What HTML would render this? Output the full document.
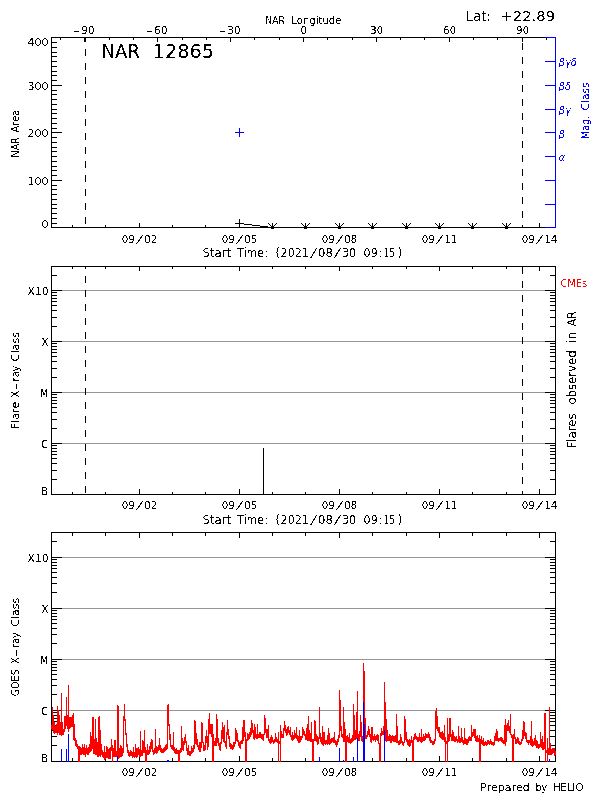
<!DOCTYPE html>
<html><head><meta charset="utf-8"><title>NAR 12865</title>
<style>
html,body{margin:0;padding:0;background:#fff}
svg{display:block}
svg text{font-family:"DejaVu Sans", "Liberation Sans", sans-serif;filter:url(#crisp)}
svg text[fill="#f00"]{filter:url(#crispR)}
svg text[fill="#00f"]{filter:url(#crispB)}
svg path{shape-rendering:crispEdges;fill:none;stroke-width:1}
</style></head><body>
<svg width="600" height="800" viewBox="0 0 600 800">
<defs>
<filter id="crisp" x="-5%" y="-5%" width="110%" height="110%" color-interpolation-filters="sRGB"><feComponentTransfer in="SourceAlpha" result="a"><feFuncA type="discrete" tableValues="0 1"/></feComponentTransfer><feFlood flood-color="#000"/><feComposite operator="in" in2="a"/></filter>
<filter id="crispR" x="-5%" y="-5%" width="110%" height="110%" color-interpolation-filters="sRGB"><feComponentTransfer in="SourceAlpha" result="a"><feFuncA type="discrete" tableValues="0 1"/></feComponentTransfer><feFlood flood-color="#f00"/><feComposite operator="in" in2="a"/></filter>
<filter id="crispB" x="-5%" y="-5%" width="110%" height="110%" color-interpolation-filters="sRGB"><feComponentTransfer in="SourceAlpha" result="a"><feFuncA type="discrete" tableValues="0 1"/></feComponentTransfer><feFlood flood-color="#00f"/><feComposite operator="in" in2="a"/></filter>
</defs>
<rect width="600" height="800" fill="#fff"/>
<path d="M51 37.5H556M51 227.5H556M51.5 37V228M51 227.5H62M51 223.5H57M51 218.5H57M51 213.5H57M51 208.5H57M51 204.5H57M51 199.5H57M51 194.5H57M51 189.5H57M51 185.5H57M51 180.5H62M51 175.5H57M51 170.5H57M51 166.5H57M51 161.5H57M51 156.5H57M51 151.5H57M51 147.5H57M51 142.5H57M51 137.5H57M51 132.5H62M51 128.5H57M51 123.5H57M51 118.5H57M51 113.5H57M51 109.5H57M51 104.5H57M51 99.5H57M51 94.5H57M51 90.5H57M51 85.5H62M51 80.5H57M51 75.5H57M51 71.5H57M51 66.5H57M51 61.5H57M51 56.5H57M51 52.5H57M51 47.5H57M51 42.5H57M51 37.5H62M72.5 225V228M105.5 225V228M139.5 223V228M172.5 225V228M205.5 225V228M239.5 223V228M272.5 225V228M305.5 225V228M339.5 223V228M372.5 225V228M406.5 225V228M439.5 223V228M472.5 225V228M506.5 225V228M539.5 223V228M60.5 37V40M84.5 37V42M109.5 37V40M133.5 37V40M157.5 37V42M182.5 37V40M206.5 37V40M230.5 37V42M254.5 37V40M279.5 37V40M303.5 37V42M327.5 37V40M352.5 37V40M376.5 37V42M400.5 37V40M424.5 37V40M449.5 37V42M473.5 37V40M497.5 37V40M522.5 37V42M546.5 37V40" stroke="#000" />
<path d="M85.5 37V228" stroke="#000" stroke-dasharray="7 7" stroke-dashoffset="2"/>
<path d="M522.5 37V228" stroke="#000" stroke-dasharray="7 7" stroke-dashoffset="8"/>
<path d="M555.5 37V228M545 37.5H556M545 61.5H556M545 85.5H556M545 109.5H556M545 132.5H556M545 156.5H556M545 180.5H556M545 204.5H556M545 227.5H556" stroke="#00f" />
<path d="M235 132.5H244M239.5 128V137" stroke="#00f" />
<path d="M235 223.5H244M239.5 219V228" stroke="#000" />
<path d="M239.5 223.5L272.5 227.5" stroke="#000" fill="none" shape-rendering="crispEdges"/>
<path d="M272.5 223V228M268.5 223.5L272.5 227.5L276.5 223.5M271 227.5H274M271 228.5H274M305.5 223V228M301.5 223.5L305.5 227.5L309.5 223.5M304 227.5H307M304 228.5H307M339.5 223V228M335.5 223.5L339.5 227.5L343.5 223.5M338 227.5H341M338 228.5H341M372.5 223V228M368.5 223.5L372.5 227.5L376.5 223.5M371 227.5H374M371 228.5H374M406.5 223V228M402.5 223.5L406.5 227.5L410.5 223.5M405 227.5H408M405 228.5H408M439.5 223V228M435.5 223.5L439.5 227.5L443.5 223.5M438 227.5H441M438 228.5H441M472.5 223V228M468.5 223.5L472.5 227.5L476.5 223.5M471 227.5H474M471 228.5H474M506.5 223V228M502.5 223.5L506.5 227.5L510.5 223.5M505 227.5H508M505 228.5H508" stroke="#000" fill="none" shape-rendering="crispEdges"/>
<text x="48.5" y="45.5" font-size="11" text-anchor="end">400</text>
<text x="48.5" y="89.5" font-size="11" text-anchor="end">300</text>
<text x="48.5" y="136.5" font-size="11" text-anchor="end">200</text>
<text x="48.5" y="184.5" font-size="11" text-anchor="end">100</text>
<text x="48.5" y="227.5" font-size="11" text-anchor="end">0</text>
<text y="19" font-size="11" transform="rotate(-90)"><tspan x="-157.4" textLength="20.0" lengthAdjust="spacingAndGlyphs">NAR</tspan> <tspan x="-132.5" textLength="23.0" lengthAdjust="spacingAndGlyphs">Area</tspan></text>
<text y="34" font-size="10"><tspan x="72.9" textLength="7.0" lengthAdjust="spacingAndGlyphs">-</tspan><tspan x="80.9" textLength="13.8" lengthAdjust="spacingAndGlyphs">90</tspan></text>
<text y="34" font-size="10"><tspan x="145.9" textLength="7.0" lengthAdjust="spacingAndGlyphs">-</tspan><tspan x="153.9" textLength="13.8" lengthAdjust="spacingAndGlyphs">60</tspan></text>
<text y="34" font-size="10"><tspan x="218.9" textLength="7.0" lengthAdjust="spacingAndGlyphs">-</tspan><tspan x="226.9" textLength="13.8" lengthAdjust="spacingAndGlyphs">30</tspan></text>
<text y="34" font-size="10"><tspan x="300.4" textLength="6.2" lengthAdjust="spacingAndGlyphs">0</tspan></text>
<text y="34" font-size="10"><tspan x="370.3" textLength="12.8" lengthAdjust="spacingAndGlyphs">30</tspan></text>
<text y="34" font-size="10"><tspan x="443.3" textLength="12.8" lengthAdjust="spacingAndGlyphs">60</tspan></text>
<text y="34" font-size="10"><tspan x="516.3" textLength="12.8" lengthAdjust="spacingAndGlyphs">90</tspan></text>
<text y="24" font-size="10"><tspan x="265.3" textLength="19.8" lengthAdjust="spacingAndGlyphs">NAR</tspan> <tspan x="291.4" textLength="50.0" lengthAdjust="spacingAndGlyphs">Longitude</tspan></text>
<text y="21" font-size="14.6"><tspan x="465.4" textLength="25.8" lengthAdjust="spacingAndGlyphs">Lat:</tspan> <tspan x="500.4" textLength="54.7" lengthAdjust="spacingAndGlyphs">+22.89</tspan></text>
<text y="58" font-size="19.3"><tspan x="101.6" textLength="38.3" lengthAdjust="spacingAndGlyphs">NAR</tspan> <tspan x="152.6" textLength="61.5" lengthAdjust="spacingAndGlyphs">12865</tspan></text>
<text x="558.5" y="66.2" font-size="10" fill="#00f" font-style="italic">βγδ</text>
<text x="558.5" y="90.0" font-size="10" fill="#00f" font-style="italic">βδ</text>
<text x="558.5" y="113.8" font-size="10" fill="#00f" font-style="italic">βγ</text>
<text x="558.5" y="137.5" font-size="10" fill="#00f" font-style="italic">β</text>
<text x="558.5" y="161.2" font-size="10" fill="#00f" font-style="italic">α</text>
<text y="589" font-size="10" transform="rotate(-90)" fill="#00f"><tspan x="-139.3" textLength="23.6" lengthAdjust="spacingAndGlyphs">Mag.</tspan> <tspan x="-110.4" textLength="27.9" lengthAdjust="spacingAndGlyphs">Class</tspan></text>
<text y="243" font-size="11"><tspan x="121.8" textLength="13.1" lengthAdjust="spacingAndGlyphs">09</tspan><tspan x="135.6" textLength="8.3" lengthAdjust="spacingAndGlyphs" font-weight="200">/</tspan><tspan x="144.3" textLength="12.9" lengthAdjust="spacingAndGlyphs">02</tspan></text>
<text y="243" font-size="11"><tspan x="221.8" textLength="13.1" lengthAdjust="spacingAndGlyphs">09</tspan><tspan x="235.6" textLength="8.3" lengthAdjust="spacingAndGlyphs" font-weight="200">/</tspan><tspan x="244.3" textLength="12.9" lengthAdjust="spacingAndGlyphs">05</tspan></text>
<text y="243" font-size="11"><tspan x="321.8" textLength="13.1" lengthAdjust="spacingAndGlyphs">09</tspan><tspan x="335.6" textLength="8.3" lengthAdjust="spacingAndGlyphs" font-weight="200">/</tspan><tspan x="344.3" textLength="12.9" lengthAdjust="spacingAndGlyphs">08</tspan></text>
<text y="243" font-size="11"><tspan x="421.8" textLength="13.1" lengthAdjust="spacingAndGlyphs">09</tspan><tspan x="435.6" textLength="8.3" lengthAdjust="spacingAndGlyphs" font-weight="200">/</tspan><tspan x="444.3" textLength="12.9" lengthAdjust="spacingAndGlyphs">11</tspan></text>
<text y="243" font-size="11"><tspan x="521.8" textLength="13.1" lengthAdjust="spacingAndGlyphs">09</tspan><tspan x="535.6" textLength="8.3" lengthAdjust="spacingAndGlyphs" font-weight="200">/</tspan><tspan x="544.3" textLength="12.9" lengthAdjust="spacingAndGlyphs">14</tspan></text>
<text y="256.5" font-size="11.5"><tspan x="202.6" textLength="28.6" lengthAdjust="spacingAndGlyphs">Start</tspan> <tspan x="237.1" textLength="30.8" lengthAdjust="spacingAndGlyphs">Time:</tspan> <tspan x="275.4" textLength="4.3" lengthAdjust="spacingAndGlyphs">(</tspan><tspan x="280.6" textLength="28.3" lengthAdjust="spacingAndGlyphs">2021</tspan><tspan x="309.3" textLength="8.5" lengthAdjust="spacingAndGlyphs" font-weight="200">/</tspan><tspan x="318.1" textLength="14.8" lengthAdjust="spacingAndGlyphs">08</tspan><tspan x="333.1" textLength="8.5" lengthAdjust="spacingAndGlyphs" font-weight="200">/</tspan><tspan x="341.9" textLength="14.1" lengthAdjust="spacingAndGlyphs">30</tspan> <tspan x="363.6" textLength="14.1" lengthAdjust="spacingAndGlyphs">09</tspan><tspan x="379.3" textLength="2.1" lengthAdjust="spacingAndGlyphs">:</tspan><tspan x="383.5" textLength="11.7" lengthAdjust="spacingAndGlyphs">15</tspan><tspan x="397.5" textLength="4.7" lengthAdjust="spacingAndGlyphs">)</tspan></text>
<path d="M62 290.5H545M62 341.5H545M62 392.5H545M62 443.5H545" stroke="#969696" />
<path d="M51 266.5H556M51 494.5H556M51.5 266V495M555.5 266V495M51 479.5H57M550 479.5H556M51 470.5H57M550 470.5H556M51 463.5H57M550 463.5H556M51 458.5H57M550 458.5H556M51 454.5H57M550 454.5H556M51 451.5H57M550 451.5H556M51 448.5H57M550 448.5H556M51 445.5H57M550 445.5H556M51 443.5H62M545 443.5H556M51 428.5H57M550 428.5H556M51 419.5H57M550 419.5H556M51 412.5H57M550 412.5H556M51 407.5H57M550 407.5H556M51 403.5H57M550 403.5H556M51 400.5H57M550 400.5H556M51 397.5H57M550 397.5H556M51 394.5H57M550 394.5H556M51 392.5H62M545 392.5H556M51 377.5H57M550 377.5H556M51 368.5H57M550 368.5H556M51 361.5H57M550 361.5H556M51 356.5H57M550 356.5H556M51 352.5H57M550 352.5H556M51 349.5H57M550 349.5H556M51 346.5H57M550 346.5H556M51 343.5H57M550 343.5H556M51 341.5H62M545 341.5H556M51 326.5H57M550 326.5H556M51 317.5H57M550 317.5H556M51 310.5H57M550 310.5H556M51 305.5H57M550 305.5H556M51 301.5H57M550 301.5H556M51 298.5H57M550 298.5H556M51 295.5H57M550 295.5H556M51 292.5H57M550 292.5H556M51 290.5H62M545 290.5H556M51 275.5H57M550 275.5H556M72.5 492V495M72.5 266V269M105.5 492V495M105.5 266V269M139.5 489V495M139.5 266V271M172.5 492V495M172.5 266V269M205.5 492V495M205.5 266V269M239.5 489V495M239.5 266V271M272.5 492V495M272.5 266V269M305.5 492V495M305.5 266V269M339.5 489V495M339.5 266V271M372.5 492V495M372.5 266V269M406.5 492V495M406.5 266V269M439.5 489V495M439.5 266V271M472.5 492V495M472.5 266V269M506.5 492V495M506.5 266V269M539.5 489V495M539.5 266V271" stroke="#000" />
<path d="M85.5 266V495" stroke="#000" stroke-dasharray="7 7" stroke-dashoffset="4"/>
<path d="M522.5 266V495" stroke="#000" stroke-dasharray="7 7" stroke-dashoffset="13"/>
<path d="M263.5 448V495" stroke="#000" />
<text y="295" font-size="11"><tspan x="27.6" textLength="21.0" lengthAdjust="spacingAndGlyphs">X10</tspan></text>
<text y="346" font-size="11"><tspan x="41.5" textLength="7.1" lengthAdjust="spacingAndGlyphs">X</tspan></text>
<text y="397" font-size="11"><tspan x="40.6" textLength="7.2" lengthAdjust="spacingAndGlyphs">M</tspan></text>
<text y="448" font-size="11"><tspan x="41.3" textLength="6.6" lengthAdjust="spacingAndGlyphs">C</tspan></text>
<text y="495" font-size="11"><tspan x="41.3" textLength="7.0" lengthAdjust="spacingAndGlyphs">B</tspan></text>
<text y="19" font-size="11" transform="rotate(-90)"><tspan x="-429.4" textLength="27.8" lengthAdjust="spacingAndGlyphs">Flare</tspan> <tspan x="-397.4" textLength="6.8" lengthAdjust="spacingAndGlyphs">X</tspan><tspan x="-390.4" textLength="7.8" lengthAdjust="spacingAndGlyphs">-</tspan><tspan x="-381.4" textLength="15.8" lengthAdjust="spacingAndGlyphs">ray</tspan> <tspan x="-361.4" textLength="29.6" lengthAdjust="spacingAndGlyphs">Class</tspan></text>
<text y="287" font-size="11" fill="#f00"><tspan x="560.6" textLength="26.4" lengthAdjust="spacingAndGlyphs">CMEs</tspan></text>
<text y="576" font-size="13" transform="rotate(-90)"><tspan x="-448.5" textLength="35.2" lengthAdjust="spacingAndGlyphs">Flares</tspan> <tspan x="-404.6" textLength="54.2" lengthAdjust="spacingAndGlyphs">observed</tspan> <tspan x="-342.8" textLength="11.0" lengthAdjust="spacingAndGlyphs">in</tspan> <tspan x="-326.2" textLength="15.0" lengthAdjust="spacingAndGlyphs">AR</tspan></text>
<text y="509" font-size="11"><tspan x="121.8" textLength="13.1" lengthAdjust="spacingAndGlyphs">09</tspan><tspan x="135.6" textLength="8.3" lengthAdjust="spacingAndGlyphs" font-weight="200">/</tspan><tspan x="144.3" textLength="12.9" lengthAdjust="spacingAndGlyphs">02</tspan></text>
<text y="509" font-size="11"><tspan x="221.8" textLength="13.1" lengthAdjust="spacingAndGlyphs">09</tspan><tspan x="235.6" textLength="8.3" lengthAdjust="spacingAndGlyphs" font-weight="200">/</tspan><tspan x="244.3" textLength="12.9" lengthAdjust="spacingAndGlyphs">05</tspan></text>
<text y="509" font-size="11"><tspan x="321.8" textLength="13.1" lengthAdjust="spacingAndGlyphs">09</tspan><tspan x="335.6" textLength="8.3" lengthAdjust="spacingAndGlyphs" font-weight="200">/</tspan><tspan x="344.3" textLength="12.9" lengthAdjust="spacingAndGlyphs">08</tspan></text>
<text y="509" font-size="11"><tspan x="421.8" textLength="13.1" lengthAdjust="spacingAndGlyphs">09</tspan><tspan x="435.6" textLength="8.3" lengthAdjust="spacingAndGlyphs" font-weight="200">/</tspan><tspan x="444.3" textLength="12.9" lengthAdjust="spacingAndGlyphs">11</tspan></text>
<text y="509" font-size="11"><tspan x="521.8" textLength="13.1" lengthAdjust="spacingAndGlyphs">09</tspan><tspan x="535.6" textLength="8.3" lengthAdjust="spacingAndGlyphs" font-weight="200">/</tspan><tspan x="544.3" textLength="12.9" lengthAdjust="spacingAndGlyphs">14</tspan></text>
<text y="523.5" font-size="11.5"><tspan x="202.6" textLength="28.6" lengthAdjust="spacingAndGlyphs">Start</tspan> <tspan x="237.1" textLength="30.8" lengthAdjust="spacingAndGlyphs">Time:</tspan> <tspan x="275.4" textLength="4.3" lengthAdjust="spacingAndGlyphs">(</tspan><tspan x="280.6" textLength="28.3" lengthAdjust="spacingAndGlyphs">2021</tspan><tspan x="309.3" textLength="8.5" lengthAdjust="spacingAndGlyphs" font-weight="200">/</tspan><tspan x="318.1" textLength="14.8" lengthAdjust="spacingAndGlyphs">08</tspan><tspan x="333.1" textLength="8.5" lengthAdjust="spacingAndGlyphs" font-weight="200">/</tspan><tspan x="341.9" textLength="14.1" lengthAdjust="spacingAndGlyphs">30</tspan> <tspan x="363.6" textLength="14.1" lengthAdjust="spacingAndGlyphs">09</tspan><tspan x="379.3" textLength="2.1" lengthAdjust="spacingAndGlyphs">:</tspan><tspan x="383.5" textLength="11.7" lengthAdjust="spacingAndGlyphs">15</tspan><tspan x="397.5" textLength="4.7" lengthAdjust="spacingAndGlyphs">)</tspan></text>
<path d="M62 557.5H545M62 608.5H545M62 659.5H545M62 710.5H545" stroke="#969696" />
<path d="M51 532.5H556M51 761.5H556M51.5 532V762M555.5 532V762M51 745.5H57M550 745.5H556M51 736.5H57M550 736.5H556M51 730.5H57M550 730.5H556M51 725.5H57M550 725.5H556M51 721.5H57M550 721.5H556M51 718.5H57M550 718.5H556M51 715.5H57M550 715.5H556M51 712.5H57M550 712.5H556M51 710.5H62M545 710.5H556M51 694.5H57M550 694.5H556M51 685.5H57M550 685.5H556M51 679.5H57M550 679.5H556M51 674.5H57M550 674.5H556M51 670.5H57M550 670.5H556M51 667.5H57M550 667.5H556M51 664.5H57M550 664.5H556M51 661.5H57M550 661.5H556M51 659.5H62M545 659.5H556M51 643.5H57M550 643.5H556M51 634.5H57M550 634.5H556M51 628.5H57M550 628.5H556M51 623.5H57M550 623.5H556M51 619.5H57M550 619.5H556M51 616.5H57M550 616.5H556M51 613.5H57M550 613.5H556M51 610.5H57M550 610.5H556M51 608.5H62M545 608.5H556M51 592.5H57M550 592.5H556M51 583.5H57M550 583.5H556M51 577.5H57M550 577.5H556M51 572.5H57M550 572.5H556M51 568.5H57M550 568.5H556M51 565.5H57M550 565.5H556M51 562.5H57M550 562.5H556M51 559.5H57M550 559.5H556M51 557.5H62M545 557.5H556M51 541.5H57M550 541.5H556M72.5 758V762M72.5 532V536M105.5 758V762M105.5 532V536M139.5 756V762M139.5 532V538M172.5 758V762M172.5 532V536M205.5 758V762M205.5 532V536M239.5 756V762M239.5 532V538M272.5 758V762M272.5 532V536M305.5 758V762M305.5 532V536M339.5 756V762M339.5 532V538M372.5 758V762M372.5 532V536M406.5 758V762M406.5 532V536M439.5 756V762M439.5 532V538M472.5 758V762M472.5 532V536M506.5 758V762M506.5 532V536M539.5 756V762M539.5 532V538" stroke="#000" />
<path d="M51.5 725V729M52.5 707V730M53.5 715V733M54.5 722V734M55.5 726V733M56.5 724V733M57.5 706V735M58.5 710V733M59.5 715V735M60.5 722V735M61.5 693V736M62.5 722V735M63.5 729V735M64.5 716V732M65.5 716V729M66.5 697V726M67.5 715V729M68.5 685V732M69.5 717V729M70.5 717V728M71.5 717V727M72.5 715V727M73.5 713V740M74.5 724V741M75.5 738V746M76.5 740V747M77.5 744V749M78.5 746V762M79.5 746V762M80.5 747V755M81.5 748V755M82.5 744V754M83.5 747V755M84.5 744V755M85.5 748V757M86.5 745V754M87.5 748V755M88.5 747V755M89.5 744V753M90.5 732V752M91.5 736V751M92.5 717V749M93.5 717V754M94.5 739V754M95.5 719V755M96.5 738V755M97.5 742V757M98.5 717V757M99.5 716V756M100.5 730V757M101.5 744V755M102.5 750V757M103.5 752V758M104.5 746V760M105.5 752V759M106.5 746V758M107.5 747V758M108.5 749V759M109.5 748V759M110.5 747V759M111.5 739V751M112.5 745V762M113.5 748V757M114.5 740V757M115.5 740V757M116.5 751V757M117.5 705V757M118.5 706V759M119.5 748V758M120.5 745V757M121.5 746V757M122.5 748V756M123.5 716V753M124.5 704V721M125.5 719V735M126.5 733V747M127.5 744V753M128.5 750V756M129.5 752V757M130.5 750V756M131.5 751V756M132.5 752V758M133.5 747V757M134.5 752V758M135.5 744V757M136.5 748V758M137.5 748V757M138.5 747V755M139.5 749V757M140.5 731V757M141.5 750V756M142.5 740V756M143.5 741V753M144.5 730V753M145.5 747V762M146.5 750V762M147.5 744V755M148.5 750V755M149.5 746V754M150.5 742V752M151.5 739V749M152.5 740V752M153.5 750V755M154.5 748V754M155.5 729V753M156.5 746V754M157.5 747V753M158.5 745V751M159.5 738V750M160.5 745V752M161.5 748V753M162.5 749V753M163.5 748V753M164.5 747V752M165.5 745V751M166.5 744V750M167.5 705V749M168.5 704V726M169.5 724V740M170.5 734V747M171.5 745V749M172.5 745V750M173.5 732V751M174.5 747V753M175.5 749V754M176.5 748V754M177.5 750V754M178.5 750V762M179.5 750V762M180.5 748V753M181.5 726V752M182.5 738V750M183.5 741V751M184.5 737V745M185.5 734V743M186.5 741V751M187.5 748V755M188.5 745V755M189.5 751V756M190.5 751V756M191.5 746V754M192.5 748V753M193.5 745V752M194.5 720V749M195.5 721V744M196.5 733V745M197.5 739V747M198.5 745V750M199.5 742V752M200.5 742V752M201.5 722V748M202.5 723V743M203.5 742V751M204.5 745V751M205.5 736V750M206.5 730V743M207.5 736V750M208.5 719V747M209.5 713V734M210.5 724V734M211.5 724V737M212.5 724V762M213.5 734V762M214.5 741V746M215.5 738V746M216.5 714V746M217.5 719V743M218.5 738V746M219.5 743V750M220.5 742V751M221.5 730V744M222.5 722V739M223.5 727V742M224.5 725V743M225.5 741V747M226.5 732V749M227.5 720V735M228.5 729V739M229.5 736V747M230.5 743V749M231.5 744V749M232.5 745V750M233.5 742V749M234.5 742V747M235.5 728V744M236.5 730V741M237.5 733V742M238.5 740V746M239.5 742V748M240.5 741V749M241.5 740V744M242.5 727V744M243.5 720V741M244.5 720V737M245.5 732V762M246.5 739V762M247.5 733V741M248.5 734V740M249.5 732V739M250.5 728V737M251.5 720V735M252.5 723V733M253.5 730V739M254.5 724V740M255.5 727V738M256.5 734V739M257.5 724V739M258.5 734V738M259.5 732V738M260.5 732V738M261.5 734V739M262.5 734V740M263.5 734V741M264.5 715V735M265.5 718V733M266.5 729V738M267.5 729V738M268.5 725V741M269.5 739V743M270.5 737V744M271.5 735V743M272.5 737V742M273.5 740V744M274.5 739V743M275.5 733V742M276.5 737V742M277.5 739V743M278.5 732V762M279.5 741V744M280.5 725V762M281.5 731V738M282.5 734V738M283.5 728V738M284.5 721V731M285.5 725V733M286.5 729V736M287.5 727V735M288.5 726V733M289.5 730V735M290.5 727V737M291.5 735V740M292.5 732V741M293.5 735V740M294.5 730V739M295.5 733V738M296.5 727V739M297.5 735V741M298.5 736V743M299.5 730V743M300.5 736V742M301.5 736V740M302.5 727V738M303.5 729V735M304.5 731V736M305.5 734V740M306.5 728V740M307.5 724V741M308.5 716V741M309.5 730V741M310.5 733V742M311.5 722V742M312.5 739V762M313.5 739V762M314.5 720V741M315.5 721V741M316.5 734V742M317.5 736V745M318.5 737V744M319.5 707V739M320.5 733V742M321.5 737V744M322.5 726V745M323.5 732V746M324.5 732V744M325.5 740V745M326.5 740V744M327.5 735V745M328.5 728V744M329.5 733V745M330.5 739V744M331.5 738V743M332.5 738V742M333.5 737V743M334.5 732V743M335.5 740V745M336.5 741V747M337.5 739V745M338.5 735V742M339.5 690V738M340.5 700V731M341.5 726V737M342.5 734V738M343.5 707V742M344.5 722V742M345.5 729V762M346.5 736V762M347.5 735V742M348.5 737V743M349.5 733V743M350.5 739V744M351.5 738V743M352.5 735V742M353.5 704V741M354.5 715V740M355.5 730V740M356.5 712V739M357.5 691V740M358.5 734V741M359.5 731V741M360.5 715V737M361.5 722V741M362.5 736V742M363.5 663V742M364.5 671V742M365.5 718V739M366.5 735V739M367.5 731V737M368.5 726V735M369.5 729V737M370.5 734V742M371.5 727V743M372.5 727V740M373.5 736V741M374.5 734V740M375.5 736V742M376.5 735V740M377.5 734V741M378.5 735V744M379.5 743V762M380.5 733V762M381.5 728V736M382.5 731V735M383.5 726V735M384.5 682V731M385.5 702V741M386.5 719V742M387.5 730V741M388.5 736V741M389.5 734V741M390.5 735V743M391.5 736V743M392.5 735V741M393.5 736V742M394.5 736V742M395.5 735V742M396.5 714V743M397.5 726V743M398.5 741V745M399.5 740V745M400.5 734V744M401.5 737V743M402.5 741V745M403.5 742V746M404.5 716V743M405.5 719V740M406.5 732V742M407.5 739V745M408.5 740V746M409.5 739V747M410.5 740V746M411.5 736V743M412.5 740V762M413.5 737V762M414.5 734V740M415.5 733V739M416.5 736V740M417.5 737V742M418.5 737V742M419.5 733V741M420.5 737V742M421.5 729V743M422.5 737V742M423.5 734V741M424.5 736V741M425.5 733V740M426.5 734V738M427.5 734V738M428.5 732V738M429.5 734V741M430.5 737V743M431.5 740V743M432.5 741V745M433.5 741V745M434.5 739V744M435.5 711V741M436.5 708V729M437.5 716V731M438.5 727V733M439.5 727V737M440.5 732V738M441.5 732V739M442.5 731V740M443.5 733V740M444.5 725V742M445.5 737V762M446.5 741V744M447.5 718V762M448.5 734V742M449.5 718V741M450.5 718V737M451.5 734V741M452.5 730V741M453.5 732V741M454.5 736V742M455.5 737V742M456.5 736V741M457.5 739V743M458.5 726V742M459.5 736V743M460.5 738V743M461.5 728V742M462.5 737V743M463.5 740V745M464.5 728V744M465.5 738V744M466.5 739V745M467.5 739V745M468.5 737V743M469.5 736V741M470.5 737V741M471.5 725V741M472.5 732V737M473.5 729V736M474.5 729V738M475.5 729V741M476.5 736V742M477.5 735V742M478.5 738V742M479.5 735V762M480.5 739V762M481.5 736V744M482.5 740V745M483.5 738V746M484.5 742V746M485.5 741V745M486.5 742V746M487.5 740V745M488.5 740V744M489.5 741V745M490.5 739V744M491.5 741V745M492.5 742V745M493.5 742V746M494.5 736V745M495.5 733V741M496.5 729V741M497.5 731V741M498.5 738V742M499.5 738V741M500.5 737V741M501.5 737V742M502.5 738V743M503.5 740V744M504.5 725V744M505.5 719V746M506.5 725V742M507.5 723V731M508.5 720V731M509.5 726V733M510.5 714V735M511.5 734V738M512.5 735V762M513.5 734V762M514.5 729V739M515.5 737V744M516.5 739V744M517.5 737V743M518.5 738V744M519.5 741V745M520.5 742V745M521.5 739V744M522.5 730V741M523.5 721V739M524.5 722V736M525.5 732V739M526.5 733V742M527.5 740V743M528.5 740V745M529.5 740V743M530.5 736V745M531.5 721V746M532.5 739V747M533.5 741V746M534.5 738V745M535.5 735V746M536.5 740V748M537.5 741V748M538.5 744V749M539.5 744V748M540.5 732V747M541.5 739V748M542.5 736V750M543.5 742V750M544.5 713V749M545.5 713V762M546.5 750V753M547.5 738V762M548.5 748V755M549.5 707V755M550.5 743V755M551.5 749V755M552.5 748V754M553.5 748V753M554.5 748V756M555.5 751V755" stroke="#f00" />
<path d="M61.5 749V762M66.5 749V762M68.5 734V762M117.5 756V762M167.5 760V762M168.5 760V762M319.5 757V762M339.5 748V762M343.5 760V762M353.5 757V762M357.5 738V762M363.5 702V762M364.5 724V762M384.5 730V762M549.5 759V762" stroke="#00f" />
<text y="562" font-size="11"><tspan x="27.6" textLength="21.0" lengthAdjust="spacingAndGlyphs">X10</tspan></text>
<text y="613" font-size="11"><tspan x="41.5" textLength="7.1" lengthAdjust="spacingAndGlyphs">X</tspan></text>
<text y="664" font-size="11"><tspan x="40.6" textLength="7.2" lengthAdjust="spacingAndGlyphs">M</tspan></text>
<text y="715" font-size="11"><tspan x="41.3" textLength="6.6" lengthAdjust="spacingAndGlyphs">C</tspan></text>
<text y="762" font-size="11"><tspan x="41.3" textLength="7.0" lengthAdjust="spacingAndGlyphs">B</tspan></text>
<text y="19" font-size="11" transform="rotate(-90)"><tspan x="-696.3" textLength="27.0" lengthAdjust="spacingAndGlyphs">GOES</tspan> <tspan x="-664.1" textLength="6.8" lengthAdjust="spacingAndGlyphs">X</tspan><tspan x="-657.1" textLength="7.8" lengthAdjust="spacingAndGlyphs">-</tspan><tspan x="-648.1" textLength="15.8" lengthAdjust="spacingAndGlyphs">ray</tspan> <tspan x="-626.8" textLength="29.0" lengthAdjust="spacingAndGlyphs">Class</tspan></text>
<text y="776" font-size="11"><tspan x="121.8" textLength="13.1" lengthAdjust="spacingAndGlyphs">09</tspan><tspan x="135.6" textLength="8.3" lengthAdjust="spacingAndGlyphs" font-weight="200">/</tspan><tspan x="144.3" textLength="12.9" lengthAdjust="spacingAndGlyphs">02</tspan></text>
<text y="776" font-size="11"><tspan x="221.8" textLength="13.1" lengthAdjust="spacingAndGlyphs">09</tspan><tspan x="235.6" textLength="8.3" lengthAdjust="spacingAndGlyphs" font-weight="200">/</tspan><tspan x="244.3" textLength="12.9" lengthAdjust="spacingAndGlyphs">05</tspan></text>
<text y="776" font-size="11"><tspan x="321.8" textLength="13.1" lengthAdjust="spacingAndGlyphs">09</tspan><tspan x="335.6" textLength="8.3" lengthAdjust="spacingAndGlyphs" font-weight="200">/</tspan><tspan x="344.3" textLength="12.9" lengthAdjust="spacingAndGlyphs">08</tspan></text>
<text y="776" font-size="11"><tspan x="421.8" textLength="13.1" lengthAdjust="spacingAndGlyphs">09</tspan><tspan x="435.6" textLength="8.3" lengthAdjust="spacingAndGlyphs" font-weight="200">/</tspan><tspan x="444.3" textLength="12.9" lengthAdjust="spacingAndGlyphs">11</tspan></text>
<text y="776" font-size="11"><tspan x="521.8" textLength="13.1" lengthAdjust="spacingAndGlyphs">09</tspan><tspan x="535.6" textLength="8.3" lengthAdjust="spacingAndGlyphs" font-weight="200">/</tspan><tspan x="544.3" textLength="12.9" lengthAdjust="spacingAndGlyphs">14</tspan></text>
<text y="791.2" font-size="11"><tspan x="480.2" textLength="49.6" lengthAdjust="spacingAndGlyphs">Prepared</tspan> <tspan x="535.6" textLength="11.4" lengthAdjust="spacingAndGlyphs">by</tspan> <tspan x="553.0" textLength="30.4" lengthAdjust="spacingAndGlyphs">HELIO</tspan></text>
</svg>
</body></html>
